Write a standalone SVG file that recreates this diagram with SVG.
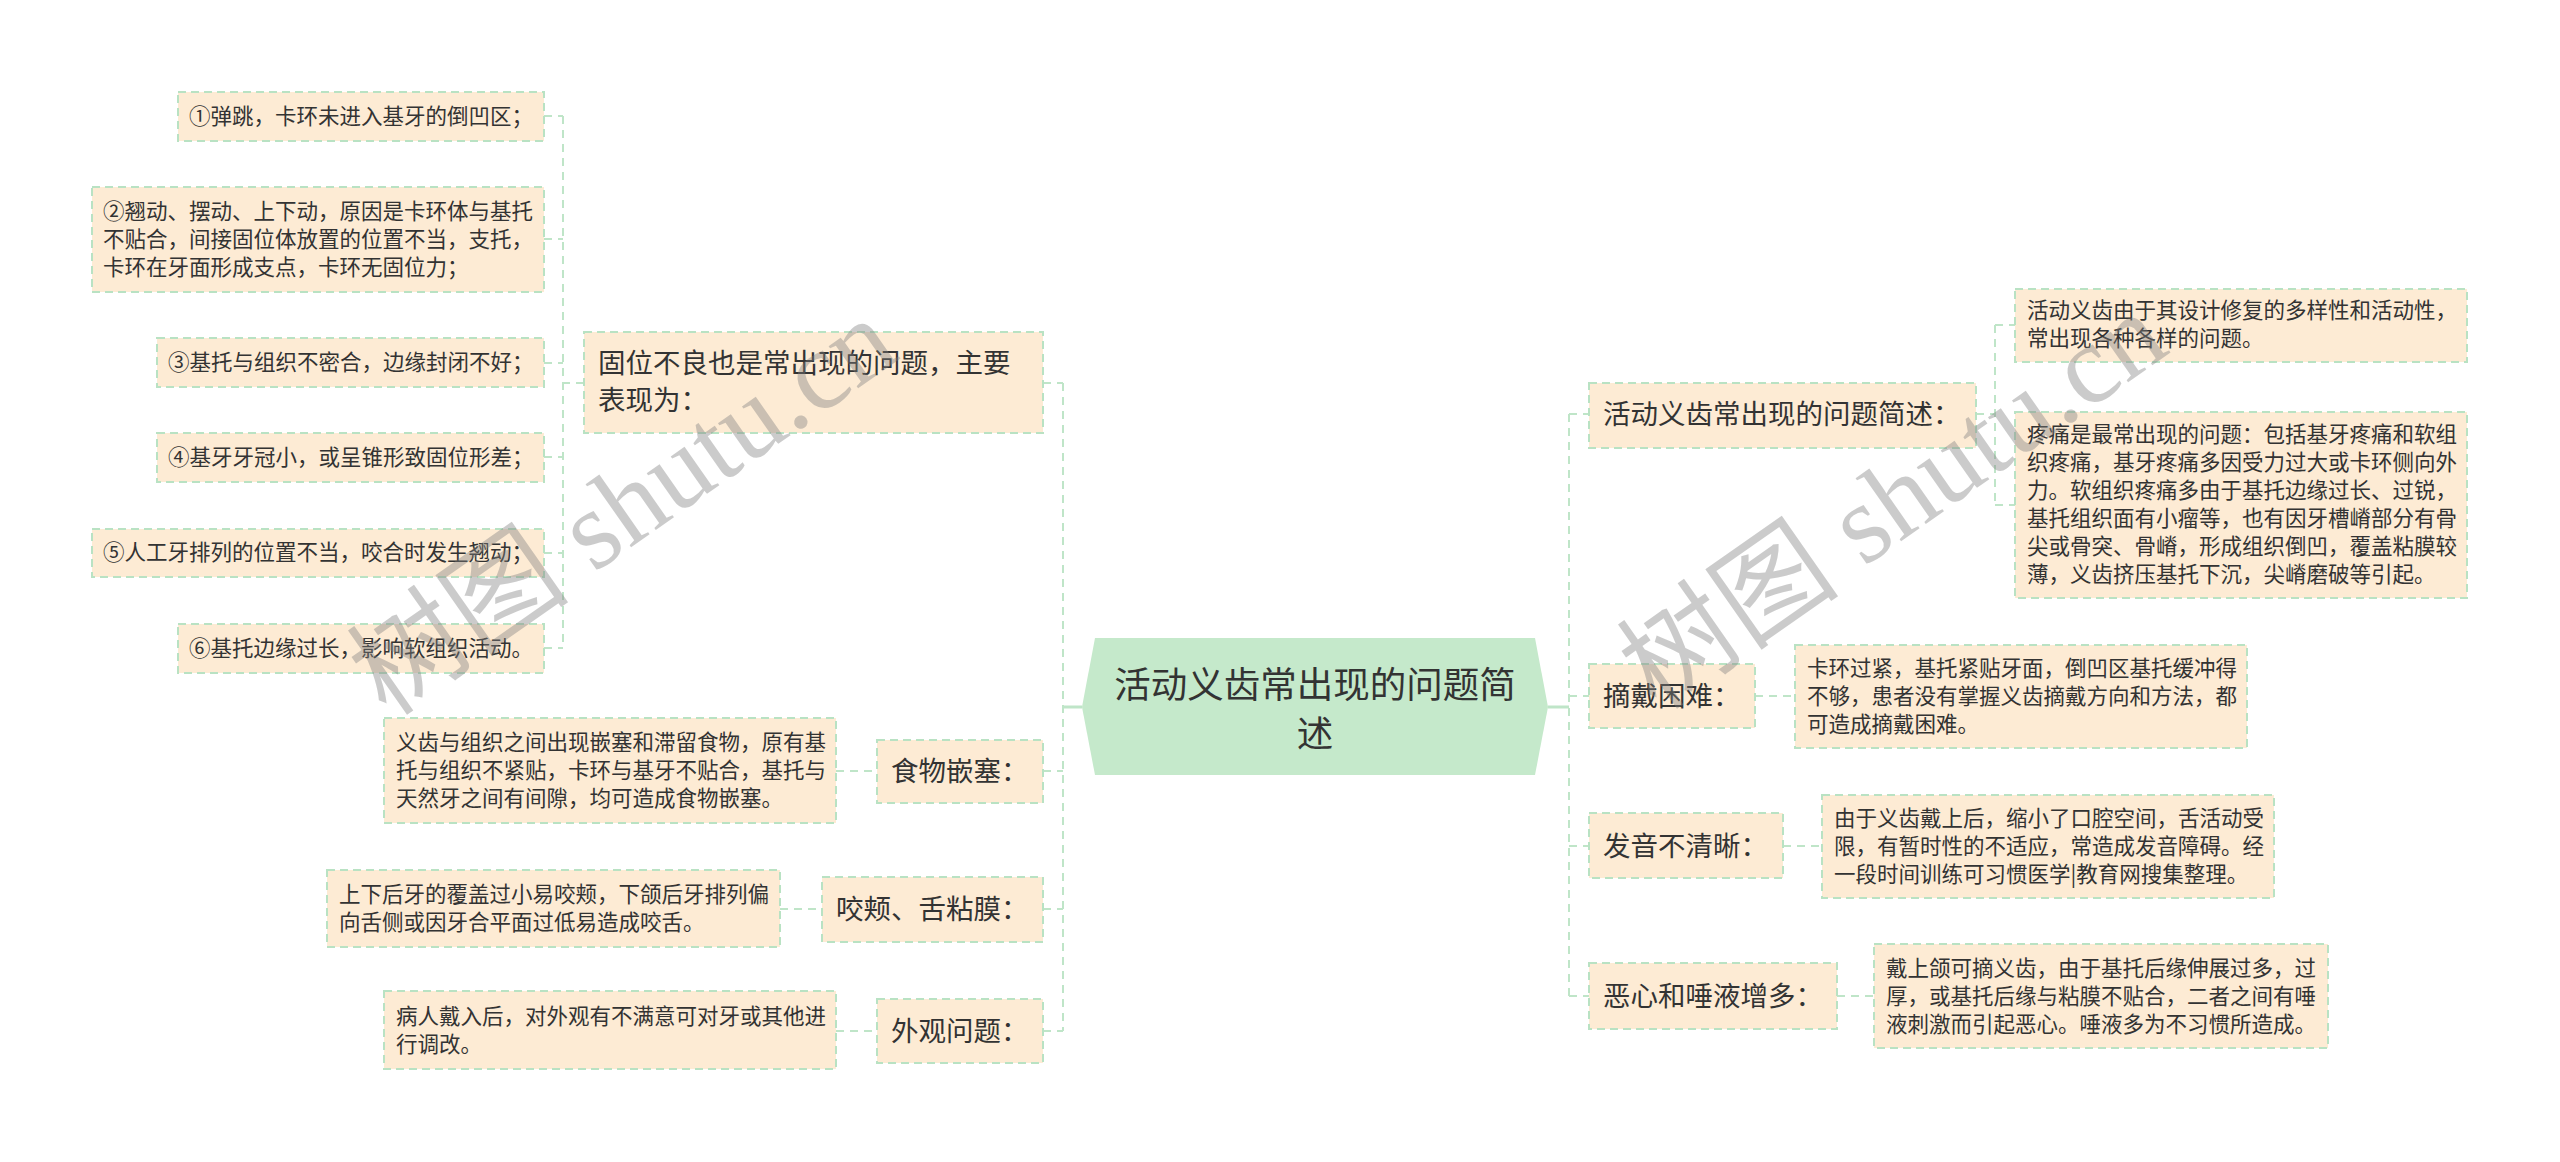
<svg xmlns="http://www.w3.org/2000/svg" width="2560" height="1162" viewBox="0 0 2560 1162">
<style>
.box{fill:#fdebd4;stroke:#b9e2c3;stroke-width:2;stroke-dasharray:8 5}
.conn{fill:none;stroke:#bfe5c8;stroke-width:2;stroke-dasharray:8 6}
.solid{fill:none;stroke:#bfe5c8;stroke-width:3}
text{font-family:"Noto Sans CJK SC","Noto Sans",sans-serif;fill:#333}
.t{font-size:21.5px}
.m{font-size:27.5px}
.c{font-size:36.5px;text-anchor:middle}
.wm{font-family:"Liberation Serif","Noto Sans CJK SC",serif;font-size:112px;fill:#808080;opacity:0.4}
</style>
<rect width="2560" height="1162" fill="#ffffff"/>
<g id="connectors">
<path class="solid" d="M1063 707H1082M1548 707H1569"/>
<path class="conn" d="M1063 383V1031M1043 383H1063M1043 771H1063M1043 909H1063M1043 1031H1063"/>
<path class="conn" d="M563 116V648M584 383H563M544 116H563M544 239H563M544 363H563M544 457H563M544 553H563M544 648H563"/>
<path class="conn" d="M836 771H877M780 909H822M836 1031H877"/>
<path class="conn" d="M1569 414V996M1569 414H1589M1569 696H1589M1569 846H1589M1569 996H1589"/>
<path class="conn" d="M1976 414H1995M1995 325V505M1995 325H2015M1995 505H2015"/>
<path class="conn" d="M1755 696H1795M1783 846H1822M1837 996H1874"/>
</g>
<g id="center">
<polygon points="1082,707 1095,638 1535,638 1548,707 1535,775 1095,775" fill="#c5e9cb"/>
<text class="c" x="1315" y="698">活动义齿常出现的问题简</text>
<text class="c" x="1315" y="747">述</text>
</g>
<g id="n-guwei">
<rect class="box" x="584" y="332" width="459" height="101"/>
<text class="m" x="598" y="373">固位不良也是常出现的问题，主要</text>
<text class="m" x="598" y="410">表现为：</text>
</g>
<g id="n-g1"><rect class="box" x="178" y="92" width="366" height="49"/><text class="t" x="189" y="124">①弹跳，卡环未进入基牙的倒凹区；</text></g>
<g id="n-g2"><rect class="box" x="92" y="187" width="452" height="105"/>
<text class="t" x="103" y="219">②翘动、摆动、上下动，原因是卡环体与基托</text>
<text class="t" x="103" y="247">不贴合，间接固位体放置的位置不当，支托，</text>
<text class="t" x="103" y="275">卡环在牙面形成支点，卡环无固位力；</text></g>
<g id="n-g3"><rect class="box" x="157" y="338" width="387" height="49"/><text class="t" x="168" y="370">③基托与组织不密合，边缘封闭不好；</text></g>
<g id="n-g4"><rect class="box" x="157" y="433" width="387" height="49"/><text class="t" x="168" y="465">④基牙牙冠小，或呈锥形致固位形差；</text></g>
<g id="n-g5"><rect class="box" x="92" y="529" width="452" height="48"/><text class="t" x="103" y="560">⑤人工牙排列的位置不当，咬合时发生翘动；</text></g>
<g id="n-g6"><rect class="box" x="178" y="624" width="366" height="49"/><text class="t" x="189" y="656">⑥基托边缘过长，影响软组织活动。</text></g>
<g id="n-food"><rect class="box" x="877" y="740" width="166" height="63"/><text class="m" x="891" y="781">食物嵌塞：</text></g>
<g id="n-food-d"><rect class="box" x="384" y="718" width="452" height="105"/>
<text class="t" x="396" y="750">义齿与组织之间出现嵌塞和滞留食物，原有基</text>
<text class="t" x="396" y="778">托与组织不紧贴，卡环与基牙不贴合，基托与</text>
<text class="t" x="396" y="806">天然牙之间有间隙，均可造成食物嵌塞。</text></g>
<g id="n-bite"><rect class="box" x="822" y="877" width="221" height="65"/><text class="m" x="836" y="919">咬颊、舌粘膜：</text></g>
<g id="n-bite-d"><rect class="box" x="327" y="870" width="453" height="77"/>
<text class="t" x="339" y="902">上下后牙的覆盖过小易咬颊，下颌后牙排列偏</text>
<text class="t" x="339" y="930">向舌侧或因牙合平面过低易造成咬舌。</text></g>
<g id="n-look"><rect class="box" x="877" y="999" width="166" height="64"/><text class="m" x="891" y="1041">外观问题：</text></g>
<g id="n-look-d"><rect class="box" x="384" y="991" width="452" height="78"/>
<text class="t" x="396" y="1024">病人戴入后，对外观有不满意可对牙或其他进</text>
<text class="t" x="396" y="1052">行调改。</text></g>
<g id="n-summary"><rect class="box" x="1589" y="383" width="387" height="65"/><text class="m" x="1603" y="424">活动义齿常出现的问题简述：</text></g>
<g id="n-s1"><rect class="box" x="2015" y="289" width="452" height="73"/>
<text class="t" x="2027" y="318">活动义齿由于其设计修复的多样性和活动性，</text>
<text class="t" x="2027" y="346">常出现各种各样的问题。</text></g>
<g id="n-s2"><rect class="box" x="2015" y="412" width="452" height="186"/>
<text class="t" x="2027" y="442">疼痛是最常出现的问题：包括基牙疼痛和软组</text>
<text class="t" x="2027" y="470">织疼痛，基牙疼痛多因受力过大或卡环侧向外</text>
<text class="t" x="2027" y="498">力。软组织疼痛多由于基托边缘过长、过锐，</text>
<text class="t" x="2027" y="526">基托组织面有小瘤等，也有因牙槽嵴部分有骨</text>
<text class="t" x="2027" y="554">尖或骨突、骨嵴，形成组织倒凹，覆盖粘膜较</text>
<text class="t" x="2027" y="582">薄，义齿挤压基托下沉，尖嵴磨破等引起。</text></g>
<g id="n-remove"><rect class="box" x="1589" y="664" width="166" height="64"/><text class="m" x="1603" y="706">摘戴困难：</text></g>
<g id="n-remove-d"><rect class="box" x="1795" y="645" width="452" height="103"/>
<text class="t" x="1807" y="676">卡环过紧，基托紧贴牙面，倒凹区基托缓冲得</text>
<text class="t" x="1807" y="704">不够，患者没有掌握义齿摘戴方向和方法，都</text>
<text class="t" x="1807" y="732">可造成摘戴困难。</text></g>
<g id="n-speech"><rect class="box" x="1589" y="813" width="194" height="65"/><text class="m" x="1603" y="856">发音不清晰：</text></g>
<g id="n-speech-d"><rect class="box" x="1822" y="795" width="452" height="103"/>
<text class="t" x="1834" y="826">由于义齿戴上后，缩小了口腔空间，舌活动受</text>
<text class="t" x="1834" y="854">限，有暂时性的不适应，常造成发音障碍。经</text>
<text class="t" x="1834" y="882">一段时间训练可习惯医学|教育网搜集整理。</text></g>
<g id="n-nausea"><rect class="box" x="1589" y="963" width="248" height="66"/><text class="m" x="1603" y="1006">恶心和唾液增多：</text></g>
<g id="n-nausea-d"><rect class="box" x="1874" y="944" width="454" height="104"/>
<text class="t" x="1886" y="976">戴上颌可摘义齿，由于基托后缘伸展过多，过</text>
<text class="t" x="1886" y="1004">厚，或基托后缘与粘膜不贴合，二者之间有唾</text>
<text class="t" x="1886" y="1032">液刺激而引起恶心。唾液多为不习惯所造成。</text></g>
<g id="watermark">
<text class="wm" transform="translate(387 718) rotate(-35)">树图 shutu.cn</text>
<text class="wm" transform="translate(1657 712) rotate(-35)">树图 shutu.cn</text>
</g>
</svg>
